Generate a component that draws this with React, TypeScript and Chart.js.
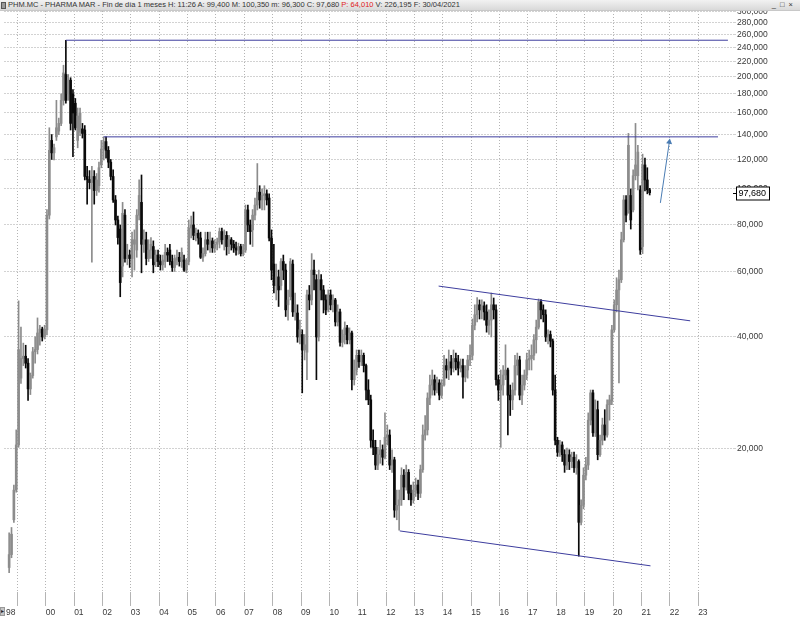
import { useEffect, useRef } from "react";
import { Chart, registerables } from "chart.js";

Chart.register(...registerables);

// Monthly candles, first one = September 1998
const START_YEAR = 1998;
const START_MONTH = 8;

const opens = [
  9.6, 10.4, 12.9, 15.5,
  20.5, 31, 35, 35.5, 34, 29, 31.5, 36.5, 37, 41, 42, 40,
  41.8, 85, 135, 125, 138, 143, 150, 173, 203, 180, 196, 180,
  170, 135, 142, 145, 144, 108, 106, 104, 108, 99, 102, 116,
  128, 134, 127, 118, 108, 93.4, 82.5, 78, 62, 85, 65, 66.4,
  65, 71, 68.5, 85, 92, 71, 73, 65, 68.5, 70, 63.8, 66.4,
  63.8, 62.5, 63.8, 67.5, 68.5, 63.8, 61.5, 64.4, 65.5, 63.8, 64.4, 60.5,
  63.8, 78.5, 80, 75, 76, 73.8, 65.5, 67, 73, 71, 72.5, 69.4,
  71, 72, 76.8, 73, 75, 70, 73, 71, 69.4, 68.5, 70, 67,
  68.5, 87.8, 80, 77.6, 85, 90.5, 98, 93.4, 96, 97, 94.5, 73.8,
  62.8, 55, 58, 55, 63.8, 60.5, 48.8, 51.3, 62.8, 46.7, 46.4, 40,
  40.6, 36.9, 36.4, 51.9, 50.3, 60.5, 57, 40, 57, 53.5, 50.3, 47.3,
  51.9, 48.8, 50.3, 43.9, 46.7, 38.7, 40.6, 42.3, 39.3, 41, 30.7, 32.6,
  35.7, 34.3, 35.7, 33.5, 28.8, 27.1, 21.1, 20.2, 18.1, 19.3, 19.9, 19,
  21.5, 21.8, 18.1, 18.7, 13.7, 14.1, 14.6, 17, 15.8, 17.3, 15.2, 14.6,
  15.5, 16, 15.2, 17.6, 21.8, 22.5, 27.4, 29.7, 30.7, 28.8, 30.1, 27.9,
  29.7, 33.5, 32.6, 34.3, 33, 35, 34.3, 33, 33.5, 31.2, 32.6, 34.7,
  35.7, 43, 45.9, 48.8, 47.3, 48.5, 46.7, 43, 44.4, 48.8, 47.3, 30.7,
  28.8, 29.7, 31.6, 32.6, 27.9, 27.1, 28.8, 33.5, 34.7, 27.9, 29.7, 31.6,
  34.7, 35, 35.7, 39.3, 42.5, 49.7, 47.3, 45.9, 40, 40.6, 39, 28.8,
  21.1, 19.6, 20.5, 19.3, 18.1, 19.3, 18.5, 19, 17.8, 18.5, 12.7, 14.1,
  17, 18.1, 23.9, 28.3, 22.1, 25.5, 19.3, 21.1, 23.2, 21.8, 26.3, 26.9,
  41.8, 48.8, 53.5, 57, 73, 93.4, 88, 96, 87.8, 108.5, 108.5, 99.4,
  70, 116, 105.7, 99.4,
];

const highs = [
  11.9, 12.3, 16.0, 22.5,
  50, 42.5, 38.5, 38, 35, 32, 37.5, 40, 45, 43, 42.5, 43,
  88, 146, 140, 132, 173, 155, 180, 215, 251, 203, 199, 185,
  175, 165, 165, 150, 148, 115, 112, 115, 112, 110, 118, 135,
  138, 138, 130, 120, 112.5, 96, 84.5, 80, 92, 88, 71, 68.5,
  76.5, 77.6, 88, 105.7, 109, 77.6, 76.5, 73, 74, 72.5, 68.5, 68.5,
  66.4, 66.4, 71, 69.4, 71, 66.4, 66.4, 68.5, 67.5, 69.4, 66.4, 65,
  82.5, 84.5, 86.7, 78.5, 77.6, 76.5, 69.4, 76.5, 76.5, 76.5, 73.8, 73,
  73.8, 78.5, 78.5, 77.6, 76.8, 75, 74, 72.7, 72, 71.5, 71, 71,
  90.5, 90.5, 82.5, 88, 94.5, 117, 102, 100, 102, 99.4, 97, 77.6,
  71, 62.8, 60.5, 65, 66.4, 62.8, 53.5, 65, 64.4, 52.5, 48.8, 44.4,
  41.8, 40.6, 53.5, 55, 67, 64.4, 58.8, 60.5, 58.8, 55, 51.9, 53.5,
  53.5, 51.9, 50.8, 48.8, 47.5, 41.8, 43.9, 43, 42.3, 41.5, 34.7, 36.9,
  36.9, 36.9, 36.2, 33.8, 30.7, 27.9, 22.5, 21.1, 20.2, 21.1, 20.5, 25,
  23.2, 22.5, 19.9, 19, 15.5, 15.5, 17.8, 17.6, 18.1, 17.6, 16, 16.3,
  16.7, 16.5, 18.1, 23.2, 24.6, 28.3, 31.6, 32.6, 31.6, 31.2, 30.7, 30.7,
  35.7, 34.9, 36.9, 35.7, 36.9, 36.2, 35.7, 34.9, 34.9, 33.5, 35.7, 38.1,
  44.7, 48.8, 51, 50.3, 50.3, 49.7, 48.8, 47.3, 52.5, 50.9, 48.8, 31.6,
  32.6, 33.5, 38.1, 33, 29.7, 30.1, 35.7, 36.2, 35.5, 31.6, 32.6, 36.2,
  36.9, 38.1, 40.6, 44.4, 50.6, 50.4, 48.8, 47.3, 41.8, 41.5, 39.5, 31.6,
  21.5, 21.1, 20.9, 19.9, 20.1, 19.9, 19.6, 19.6, 19.3, 18.7, 14.6, 17.8,
  19, 25, 28.8, 28.8, 27.1, 26.9, 21.8, 24.2, 25.5, 27.1, 27.9, 43,
  50.3, 57.7, 60.5, 76.5, 96, 96, 141, 100, 112.5, 150, 131, 102,
  124, 121, 114, 100.35,
];

const lows = [
  9.3, 10.2, 12.7, 15.3,
  20.2, 30, 33.5, 33, 27, 28, 31, 34, 36, 38, 39, 39.5,
  40.5, 83, 120, 119.6, 135, 140, 148, 168, 170, 173, 144, 122,
  144, 129, 139, 137, 105.7, 91, 100, 63.5, 91, 96, 98, 114,
  119.6, 121, 114, 105.7, 92, 80, 71, 51.3, 58, 63.5, 62.5, 61.5,
  58, 60.5, 65.5, 82.5, 59.5, 67.5, 62.5, 63.8, 65, 59.5, 61.8, 61.8,
  60.5, 60.5, 61.5, 63.8, 62.5, 60, 60, 62.5, 62, 61.5, 60, 59.5,
  62.5, 73.8, 73, 72.5, 71, 65, 63.8, 66, 68.5, 67.5, 67.5, 67.5,
  68.5, 69.4, 71, 68.5, 66.4, 67, 68.5, 67.5, 66.4, 66.7, 66, 66,
  67.5, 76.8, 71, 70, 82.5, 87.8, 88.7, 87.8, 87.8, 90.5, 72.5, 57,
  52.5, 50.3, 48.3, 53.5, 57, 45.4, 44.4, 50.3, 45.4, 44.4, 38.7, 38.3,
  28.3, 34.7, 30.7, 47.3, 48.8, 53.5, 30.7, 39, 50.3, 46.4, 45.9, 46.7,
  47.3, 46.7, 42.8, 42.8, 37.8, 37.6, 38.3, 38.3, 38.3, 28.8, 29.7, 31.6,
  33.1, 33.5, 32.2, 27.1, 26.3, 20.2, 19.3, 17.6, 17.6, 18.3, 18.1, 18.8,
  20.5, 17.6, 17.3, 13.1, 12.9, 12.1, 14.1, 14.6, 15.5, 14.6, 14.1, 14.3,
  14.9, 14.6, 14.8, 17.3, 21.1, 21.8, 26.3, 27.9, 27.9, 28.3, 27.1, 27.4,
  29.5, 31, 30.7, 31.6, 32.2, 32.6, 31.6, 32.2, 27.4, 30.3, 31, 33.5,
  34.7, 41.8, 43.9, 44.7, 44.7, 44.4, 41.2, 40.6, 40, 44.7, 29.7, 27,
  20.2, 27.9, 30.7, 21.8, 24.6, 25.5, 27.9, 31.6, 27.1, 26.3, 28.8, 30.7,
  32.6, 32.6, 34.7, 36.2, 42, 44.7, 43.9, 38.9, 38.3, 37.6, 27.9, 20.5,
  19.1, 19.1, 18.5, 17.3, 17.6, 17.6, 17.8, 17.3, 17.1, 10.3, 12.5, 13.8,
  16.5, 17.6, 23.2, 21.6, 21.6, 18.7, 19.1, 20.5, 21.1, 21.5, 23.9, 26.3,
  41.2, 46.7, 30.1, 56, 72, 81.5, 86, 78, 86.7, 105.7, 99.4, 66.7,
  67, 98.8, 97, 96.3,
];

const closes = [
  10.4, 11.8, 15.5, 20.5,
  37, 35, 35.5, 34, 29, 31.5, 36.5, 37, 41, 42, 40, 42,
  85, 127, 125, 129, 146, 150, 173, 205, 173, 196, 150, 160,
  146, 157, 160, 141, 108, 106, 104, 108, 99, 105.7, 114, 128,
  134, 127, 118, 108, 93.4, 82.5, 74, 56, 86, 65, 66.4, 65,
  73, 73, 85, 96, 71, 73, 65, 68.5, 71, 62.5, 66.4, 63.8,
  62.5, 64.4, 67.5, 66.4, 63.8, 61.5, 65, 65.5, 63.8, 67.5, 60.5, 63.8,
  78.5, 80, 75, 76, 73.8, 65.5, 67, 73, 71, 72.5, 69.4, 71,
  72, 76.8, 73, 75, 70, 73, 71, 69.4, 68.5, 70, 67, 68.5,
  87.8, 80, 76.8, 85, 90.5, 98, 93.4, 96, 97, 93.4, 73.8, 60.5,
  55, 58, 53.5, 63.8, 60.5, 47.3, 50.3, 63.8, 46.7, 48.8, 40, 41.8,
  36.9, 38.1, 51.9, 50.3, 60.5, 58.8, 40, 57, 53.5, 50.3, 47.3, 51.9,
  48.8, 50.3, 43.9, 46.7, 38.7, 40.6, 42.3, 39.3, 41, 30.7, 32.6, 35.7,
  34.3, 35.7, 33.5, 28.8, 27.1, 21.1, 20.2, 18.1, 19.3, 19.9, 19, 21.5,
  21.8, 18.1, 18.7, 13.7, 14.1, 14.6, 17, 15.8, 17.3, 15.2, 14.6, 15.5,
  16, 15.2, 17.6, 21.8, 22.5, 27.4, 29.7, 30.7, 28.8, 30.1, 27.9, 29.7,
  33.5, 32.6, 34.3, 33, 35, 34.3, 33, 33.5, 31.2, 32.6, 34.7, 35.7,
  43, 45.9, 48.8, 47.3, 48.5, 46.7, 43, 44.4, 48.8, 47.3, 30.7, 28.8,
  29.7, 31.6, 32.6, 27.9, 27.1, 28.8, 33.5, 34.7, 27.9, 29.7, 31.6, 34.7,
  35, 35.7, 39.3, 42.5, 49.7, 47.3, 45.9, 40, 40.6, 39, 28.8, 21.1,
  19.6, 20.5, 19.3, 18.1, 19.3, 18.5, 19, 17.8, 18.5, 12.7, 14.1, 17,
  18.1, 23.9, 28.3, 22.1, 25.5, 19.3, 21.1, 23.2, 21.8, 26.3, 27.1, 41.8,
  48.8, 53.5, 57, 73, 93.4, 85, 131, 82.5, 108.5, 116, 125.6, 68.5,
  116, 105.7, 99.4, 97.68,
];

const priceTicks = [20, 40, 60, 80, 100, 120, 140, 160, 180, 200, 220, 240, 260, 280, 300];
const yearTicks = [1998.6, 1999, 2000, 2001, 2002, 2003, 2004, 2005, 2006, 2007, 2008, 2009, 2010, 2011,
  2012, 2013, 2014, 2015, 2016, 2017, 2018, 2019, 2020, 2021, 2022, 2023];
const yearLabels = ["98", "", "00", "01", "02", "03", "04", "05", "06", "07", "08", "09", "10", "11",
  "12", "13", "14", "15", "16", "17", "18", "19", "20", "21", "22", "23"];

// drawn studies (time in fractional years, price in €)
const resistance2000 = [{ x: 2000.708, y: 251 }, { x: 2024.05, y: 251 }];
const resistance2002 = [{ x: 2002.04, y: 138 }, { x: 2023.7, y: 138 }];
const channelTop = [{ x: 2013.85, y: 54.8 }, { x: 2022.72, y: 44.2 }];
const channelBottom = [{ x: 2012.48, y: 12.04 }, { x: 2021.32, y: 9.7 }];
const projectionArrow = [{ x: 2021.669, y: 91.7 }, { x: 2021.985, y: 133.7 }];

const LAST_PRICE = 97.68;

const fmt = (v: number) => v.toFixed(3).replace(".", ",");

export default function App() {
  const canvasRef = useRef<HTMLCanvasElement | null>(null);

  useEffect(() => {
    document.body.style.margin = "0";
    const canvas = canvasRef.current;
    if (!canvas) return;

    const dates = opens.map((_, i) => START_YEAR + (START_MONTH + i + 0.5) / 12);
    const UP = "#8c8c8c";
    const DOWN = "#0a0a0a";
    const colors = opens.map((o, i) => (closes[i] >= o ? UP : DOWN));
    const STUDY = "#3d3d9e";

    const lastPricePlugin = {
      id: "lastPrice",
      afterDraw(chart: any) {
        const { ctx, chartArea } = chart;
        const y = chart.scales.y;
        const py = Math.round(y.getPixelForValue(LAST_PRICE)) + 0.5;
        const bx = Math.round(chartArea.right) + 3.5;
        const bw = 33;
        const bh = 13;
        ctx.save();
        ctx.strokeStyle = "#000";
        ctx.lineWidth = 1;
        ctx.beginPath();
        ctx.moveTo(chartArea.right, py);
        ctx.lineTo(bx, py);
        ctx.stroke();
        ctx.fillStyle = "#fff";
        ctx.fillRect(bx, py - bh / 2, bw, bh);
        ctx.strokeRect(bx, py - bh / 2, bw, bh);
        ctx.fillStyle = "#000";
        ctx.font = '9px "Liberation Sans", Arial, sans-serif';
        ctx.textAlign = "left";
        ctx.textBaseline = "middle";
        ctx.fillText(fmt(LAST_PRICE), bx + 2, py + 0.5);
        ctx.restore();
      },
    };

    const lineDs = (data: any[], color: string, extra: any = {}) => ({
      type: "line",
      data,
      borderColor: color,
      backgroundColor: color,
      borderWidth: 1,
      pointRadius: 0,
      fill: false,
      tension: 0,
      ...extra,
    });

    const chart = new Chart(canvas, {
      type: "bar",
      data: {
        datasets: [
          {
            type: "bar",
            data: dates.map((t, i) => ({ x: t, y: [lows[i], highs[i]] })),
            backgroundColor: colors,
            borderWidth: 0,
            barThickness: 1,
            grouped: false,
            order: 2,
          },
          {
            type: "bar",
            data: dates.map((t, i) => ({ x: t, y: [opens[i], closes[i]] })),
            backgroundColor: colors,
            borderWidth: 0,
            barThickness: 2,
            minBarLength: 1,
            grouped: false,
            order: 1,
          },
          lineDs(resistance2000, STUDY, { order: 0 }),
          lineDs(resistance2002, STUDY, { order: 0 }),
          lineDs(channelTop, STUDY, { order: 0 }),
          lineDs(channelBottom, STUDY, { order: 0 }),
          lineDs(projectionArrow, "#4a7cb3", {
            order: 0,
            pointRadius: [0, 3.5],
            pointStyle: "triangle",
            rotation: [0, 8],
            pointBorderWidth: 0,
          }),
        ] as any,
      },
      options: {
        animation: false,
        responsive: true,
        maintainAspectRatio: false,
        events: [],
        layout: { padding: { top: 8, left: 0, right: 0, bottom: 0 } },
        plugins: {
          legend: { display: false },
          tooltip: { enabled: false },
          title: { display: false },
        },
        scales: {
          x: {
            type: "linear",
            min: 1998.527,
            max: 2024.229,
            offset: false,
            afterBuildTicks: (scale: any) => {
              scale.ticks = yearTicks.map((v) => ({ value: v }));
            },
            afterFit: (scale: any) => {
              scale.height = 26;
            },
            grid: {
              color: (c: any) => (c.tick && c.tick.value < 1999 ? "rgba(0,0,0,0)" : "#b4b4b4"),
              tickLength: 14,
              drawTicks: true,
              offset: false,
            },
            border: { display: false, dash: [1, 2] },
            ticks: {
              autoSkip: false,
              maxRotation: 0,
              align: "start",
              padding: 2,
              color: "#3a3a3a",
              font: { size: 8.5, family: '"Liberation Sans", Arial, sans-serif' },
              callback: (v: any) => {
                const idx = yearTicks.indexOf(Number(v));
                return idx >= 0 ? yearLabels[idx] : "";
              },
            },
          },
          y: {
            type: "logarithmic",
            position: "right",
            min: 8.25,
            max: 306.4,
            afterBuildTicks: (scale: any) => {
              scale.ticks = priceTicks.map((v) => ({ value: v }));
            },
            afterFit: (scale: any) => {
              scale.width = 67;
            },
            grid: { color: "#d2d2d2", tickLength: 3, drawTicks: true },
            border: { display: false, dash: [2, 1] },
            ticks: {
              autoSkip: false,
              padding: 1,
              color: "#3a3a3a",
              font: { size: 8.5, family: '"Liberation Sans", Arial, sans-serif' },
              callback: (v: any) => fmt(Number(v)),
            },
          },
        },
      } as any,
      plugins: [lastPricePlugin],
    });

    return () => chart.destroy();
  }, []);

  const headerFont = '"Liberation Sans", Arial, sans-serif';

  return (
    <div style={{ position: "relative", width: 800, height: 618, background: "#fff", overflow: "hidden" }}>
      <canvas ref={canvasRef} />
      <div
        style={{
          position: "absolute",
          left: 0,
          top: 0,
          width: 800,
          height: 10,
          background: "linear-gradient(#f2f2f2, #d9d9d9)",
          borderBottom: "1px solid #c8c8c8",
          fontFamily: headerFont,
          fontSize: 7.5,
          lineHeight: "10px",
          color: "#333",
          whiteSpace: "nowrap",
        }}
      >
        <span
          style={{
            position: "absolute",
            left: 1,
            top: 2,
            width: 3,
            height: 5,
            border: "1px solid #555",
            background: "#999",
          }}
        />
        <span style={{ position: "absolute", left: 8, top: 0 }}>
          PHM.MC - PHARMA MAR - Fin de día 1 meses H: 11:26 A: 99,400 M: 100,350 m: 96,300 C: 97,680{" "}
          <span style={{ color: "#e02020" }}>P: 64,010</span> V: 226,195 F: 30/04/2021
        </span>
        <span style={{ position: "absolute", right: 6, top: 0, letterSpacing: 1 }}>_ □ ×</span>
      </div>
      <div
        style={{
          position: "absolute",
          left: 0,
          top: 607,
          width: 5,
          height: 9,
          background: "#c4c4c4",
          border: "1px solid #999",
          boxSizing: "border-box",
          fontSize: 6,
          lineHeight: "7px",
          color: "#222",
          textAlign: "center",
          overflow: "hidden",
          fontFamily: headerFont,
        }}
      >
        ▸
      </div>
    </div>
  );
}
